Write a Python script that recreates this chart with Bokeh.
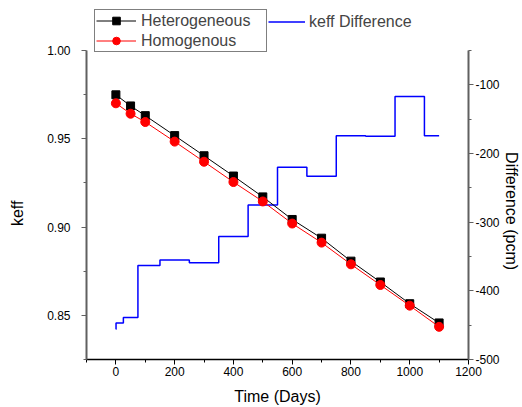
from bokeh.plotting import figure
from bokeh.models import (Range1d, LinearAxis, FixedTicker, PrintfTickFormatter,
                          Legend, LegendItem)
from bokeh.embed import file_html
from bokeh.resources import INLINE

# ---- data ----
days = [0, 50, 100, 200, 300, 400, 500, 600, 700, 800, 900, 1000, 1100]
keff_het = [0.9749, 0.9686, 0.9631, 0.9518, 0.9404, 0.9289, 0.9171,
            0.9043, 0.8937, 0.8807, 0.8689, 0.8566, 0.8457]
keff_hom = [0.9701, 0.9642, 0.9595, 0.9484, 0.9370, 0.9255, 0.9145,
            0.9020, 0.8912, 0.8789, 0.8672, 0.8555, 0.8435]
diff_days = [0, 1, 50, 100, 200, 300, 400, 500, 600, 700, 800, 900, 1000, 1100]
diff_pcm = [-456, -447, -439, -363, -355, -359, -321, -275, -220, -233,
            -174, -175, -117, -174]

x_ticks = [0, 200, 400, 600, 800, 1000, 1200]
x_minor = [-100, 100, 300, 500, 700, 900, 1100]
y_ticks = [0.85, 0.90, 0.95, 1.00]
y_minor = [0.825, 0.875, 0.925, 0.975]
r_ticks = [-500, -400, -300, -200, -100]
r_minor = [-450, -350, -250, -150, -50]

FONT = "Liberation Sans"
AXIS_GRAY = "#606060"
NB = "\u00a0"

# The frame reaches the top of the page so that the legends above the axes'
# top end are not clipped; the axes themselves are limited with bounds.
LEFT_LO, LEFT_HI = 0.825, 1.0
RIGHT_LO, RIGHT_HI = -500, -50
TOP_EXTRA = 50 / 309.0

p = figure(width=522, height=407, output_backend="svg", toolbar_location=None,
           x_range=Range1d(-100, 1200),
           y_range=Range1d(LEFT_LO, LEFT_HI + (LEFT_HI - LEFT_LO) * TOP_EXTRA),
           min_border_left=86, min_border_right=54, min_border_top=0,
           min_border_bottom=48)
p.outline_line_color = None
p.xgrid.visible = False
p.ygrid.visible = False
p.extra_y_ranges = {"diff": Range1d(RIGHT_LO, RIGHT_HI + (RIGHT_HI - RIGHT_LO) * TOP_EXTRA)}

def style_axis(ax, line_color, line_width):
    ax.axis_line_color = line_color
    ax.axis_line_width = line_width
    ax.major_tick_line_color = line_color
    ax.minor_tick_line_color = line_color
    ax.major_tick_line_width = 1
    ax.minor_tick_line_width = 1
    ax.major_tick_out = 5
    ax.major_tick_in = 0
    ax.minor_tick_out = 3
    ax.minor_tick_in = 0
    ax.major_label_text_font = FONT
    ax.major_label_text_font_size = "12px"
    ax.major_label_text_color = "black"
    ax.axis_label_text_font = FONT
    ax.axis_label_text_font_size = "16px"
    ax.axis_label_text_font_style = "normal"
    ax.axis_label_text_color = "black"

xa = p.xaxis[0]
style_axis(xa, "black", 1.5)
xa.ticker = FixedTicker(ticks=x_ticks, minor_ticks=x_minor)
xa.axis_label = "Time (Days)"
xa.major_label_standoff = 2
xa.axis_label_standoff = 9

ya = p.yaxis[0]
style_axis(ya, AXIS_GRAY, 2)
ya.bounds = (LEFT_LO, LEFT_HI)
ya.ticker = FixedTicker(ticks=y_ticks, minor_ticks=y_minor)
ya.formatter = PrintfTickFormatter(format="%.2f")
ya.axis_label = "keff" + NB * 15
ya.major_label_standoff = 11
ya.axis_label_standoff = 18

ra = LinearAxis(y_range_name="diff")
style_axis(ra, AXIS_GRAY, 2)
ra.bounds = (RIGHT_LO, RIGHT_HI)
ra.ticker = FixedTicker(ticks=r_ticks, minor_ticks=r_minor)
ra.formatter = PrintfTickFormatter(format="%d")
ra.axis_label = NB * 14 + "Difference (pcm)"
ra.major_label_standoff = 2
ra.axis_label_standoff = 0
p.add_layout(ra, "right")

# glyphs
step_r = p.step(diff_days, diff_pcm, mode="center", y_range_name="diff",
                line_color="#0000ff", line_width=1.5)
het_line = p.line(days, keff_het, line_color="black", line_width=1)
het_pts = p.scatter(days, keff_het, marker="square", size=8,
                    fill_color="black", line_color="black")
hom_line = p.line(days, keff_hom, line_color="red", line_width=1)
hom_pts = p.scatter(days, keff_hom, marker="circle", size=9,
                    fill_color="red", line_color="red")

leg1 = Legend(items=[LegendItem(label="Heterogeneous", renderers=[het_line, het_pts]),
                     LegendItem(label="Homogenous", renderers=[hom_line, hom_pts])],
              location=(8, 307), orientation="vertical")
leg1.border_line_color = "black"
leg1.border_line_width = 1
leg1.background_fill_color = "white"
leg1.background_fill_alpha = 1
leg1.label_text_font = FONT
leg1.label_text_font_size = "16px"
leg1.glyph_width = 40
leg1.glyph_height = 19
leg1.label_height = 19
leg1.label_width = 124
leg1.label_standoff = 5
leg1.padding = 1
leg1.spacing = 1
leg1.margin = 0

leg2 = Legend(items=[LegendItem(label="keff Difference", renderers=[step_r])],
              location=(182, 328))
leg2.border_line_alpha = 0
leg2.background_fill_alpha = 0
leg2.label_text_font = FONT
leg2.label_text_font_size = "16px"
leg2.glyph_width = 37
leg2.glyph_height = 19
leg2.label_height = 19
leg2.label_standoff = 4
leg2.padding = 0
leg2.spacing = 0
leg2.margin = 0

p.add_layout(leg1, "center")
p.add_layout(leg2, "center")

open("out.html", "w").write(file_html(p, INLINE))
